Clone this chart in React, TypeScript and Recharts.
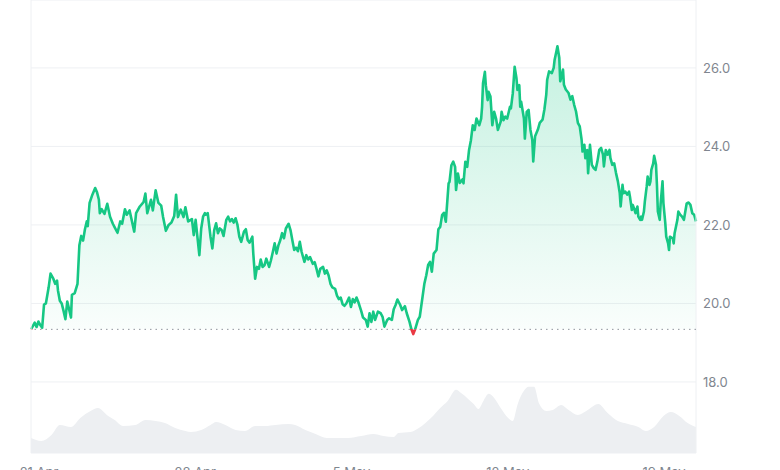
import { ComposedChart, Area, XAxis, YAxis, CartesianGrid, ReferenceLine } from 'recharts';

// hours since the first sample (20 Apr 15:24 UTC)
const priceHours = [
  0, 2, 4, 6, 8, 10, 12, 14, 16, 19, 21, 24, 26, 28, 29, 31, 33, 35, 37, 39, 41, 43, 44, 47, 50, 52, 54, 56, 58, 60,
  61, 63, 66, 69, 71, 73, 74, 76, 79, 82, 85, 88, 90, 93, 96, 98, 101, 103, 106, 111, 113, 117, 121, 123, 125, 129, 131, 134, 137, 140,
  142, 145, 148, 151, 154, 156, 158, 161, 164, 166, 169, 173, 175, 177,
  181, 183, 185, 187, 188, 190, 193, 195, 197, 199, 201, 203, 205, 207, 210, 212, 214, 216, 218, 220, 222, 224, 226, 229, 231, 233,
  235, 238, 239, 241, 243, 245, 247, 249, 251, 253, 256, 258, 260, 262, 264, 266, 268, 270, 272, 274, 277, 279, 281, 283, 285, 287,
  289, 291, 294, 296, 298, 300, 303, 305, 307, 309, 311, 314, 316, 318, 320, 322, 324, 327, 329, 331, 333, 335, 337, 339, 342, 344,
  346, 348, 350, 352, 355, 357,
  360, 362, 364, 366, 368, 370, 373, 376, 378, 380, 383, 385, 388, 390, 392, 394, 397, 399, 402, 404, 407, 409, 411, 413, 416, 418,
  421, 423, 425, 427, 429, 431, 433, 436, 438, 440, 442, 444, 446, 449, 450, 452, 454, 456, 457, 459, 461, 464, 465, 467, 469, 471,
  473, 475, 477, 479, 482, 484, 485, 486, 488, 489, 491, 492, 494, 496, 498, 500, 502, 505, 506, 508, 510, 512, 515, 516, 518, 520,
  522, 523, 525, 526, 527, 530, 531, 533, 535, 537, 539,
  540, 542, 545, 547, 550, 552, 554, 555, 557, 560, 562, 563, 565, 566, 568, 569, 570, 572, 573, 575, 578, 580, 582, 584, 586, 588,
  590, 592, 593, 595, 596, 598, 599, 601, 603, 605, 607, 609, 611, 613, 615, 616, 618, 620, 622, 623, 625, 627, 629, 631, 633, 634,
  636, 637, 639, 641, 643, 644, 646, 647, 649, 650, 652, 653, 655, 656, 657, 659, 660, 662, 663, 665, 666, 667, 669, 670, 672, 673,
  674, 676, 677, 679, 680, 682, 683, 685, 686, 687, 690, 691, 692, 695, 696, 698, 700, 702, 705, 707, 709, 711, 713, 715,
];

const prices = [
  19.34, 19.42, 19.51, 19.4, 19.54, 19.45, 19.38, 19.97, 20.0, 20.41, 20.76, 20.63, 20.5, 20.58, 20.33, 20.07, 20.0, 19.81, 19.6, 20.05,
  19.85, 19.64, 20.22, 20.26, 20.5, 21.48, 21.72, 21.6, 21.89, 22.09,
  21.97, 22.56, 22.77, 22.94, 22.83, 22.64, 22.3, 22.4, 22.28, 22.54, 22.21, 22.03, 21.94, 21.8, 22.09, 22.03, 22.4, 22.26, 22.37, 21.83,
  22.3, 22.47, 22.58, 22.8, 22.3, 22.64, 22.37, 22.88, 22.56, 22.49,
  22.2, 21.85, 22.0, 22.06, 22.23, 22.77, 22.2, 22.39, 22.2, 22.45, 22.09, 22.15, 21.74, 22.13,
  21.23, 21.91, 22.21, 22.3, 22.26, 22.3, 21.7, 21.4, 21.87, 22.04, 21.79, 21.91, 21.87, 21.72, 22.13, 22.21, 22.09, 22.15, 22.06, 22.17,
  22.0, 21.7, 21.57, 21.83, 21.89, 21.61,
  21.55, 21.7, 21.27, 20.63, 20.93, 20.88, 21.12, 20.93, 20.97, 21.14, 20.93, 21.1, 21.31, 21.53, 21.27, 21.48, 21.61, 21.79, 21.66, 21.91,
  22.03, 21.87, 21.61, 21.36, 21.42, 21.33,
  21.57, 21.31, 21.06, 21.23, 21.12, 21.18, 21.01, 21.05, 20.88, 20.69, 20.88, 20.93, 20.76, 20.84, 20.71, 20.5, 20.41, 20.37, 20.2, 20.11,
  20.15, 19.98, 19.94, 20.0, 20.15, 19.91,
  20.11, 20.03, 20.15, 20.03, 19.81, 19.64,
  19.58, 19.41, 19.75, 19.53, 19.79, 19.58, 19.79, 19.75, 19.66, 19.41, 19.58, 19.62, 19.58, 19.85, 19.96, 20.1, 19.96, 19.83, 19.93, 19.75,
  19.53, 19.34, 19.22, 19.34, 19.58, 19.66,
  20.17, 20.51, 20.72, 20.98, 21.06, 20.81, 21.27, 21.36, 21.89, 21.95, 22.25, 22.31, 22.08, 23.06, 23.1, 23.52, 23.61, 23.48, 22.89, 23.31,
  23.07, 23.16, 23.06, 23.61, 23.48, 23.91,
  24.16, 24.54, 24.42, 24.71, 24.54, 24.71, 25.01, 25.61, 25.9, 25.56, 25.18, 25.39, 25.27, 24.54, 24.88, 24.71, 24.42, 24.63, 24.88, 24.67,
  24.76, 24.71, 25.01, 24.97, 25.35, 26.03,
  25.73, 25.44, 25.56, 25.01, 25.14, 24.71, 24.2, 24.88, 24.93, 24.42, 24.16,
  23.62, 24.26, 24.43, 24.6, 24.68, 24.94, 25.32, 25.7, 25.91, 25.87, 26.0, 26.21, 26.43, 26.55, 26.26, 25.66, 25.74, 25.96, 25.57, 25.45,
  25.36, 25.19, 25.28, 25.06, 24.89, 24.6,
  24.51, 24.17, 23.87, 24.04, 23.7, 23.91, 23.32, 24.04, 23.53, 23.45, 23.4, 23.62, 23.91, 23.96, 23.79, 23.49, 23.91, 23.79, 23.91, 23.7,
  23.53, 23.57, 23.32, 23.11, 22.81, 22.47,
  23.02, 22.81, 22.85, 22.77, 22.85, 22.72, 22.38, 22.51, 22.38, 22.3, 22.47, 22.21, 22.13, 22.21, 22.13, 22.34, 22.6, 22.98, 23.23, 23.02,
  23.11, 23.4, 23.57, 23.76, 23.53, 23.02,
  22.34, 22.13, 22.55, 23.11, 22.55, 22.04, 21.7, 21.53, 21.36, 21.7, 21.66, 21.53, 21.79, 22.13, 22.34, 22.26, 22.21, 22.13, 22.55, 22.57,
  22.51, 22.3, 22.26, 22.09,
];

const volumeHours = [
  0, 11, 22, 31, 43, 53, 64, 72, 83, 90, 99, 112, 123, 134, 144, 155, 166, 172, 183, 193, 199, 209, 220, 230, 241, 252, 263, 277, 284, 295,
  306, 318, 327, 341, 355, 368, 379, 390, 395, 408, 417, 430, 440, 448, 457, 462, 470, 476, 481, 487, 492, 498, 505, 513, 518, 523, 530, 535,
  541, 546, 554, 561, 570, 578, 588, 597, 610, 620, 631, 642, 653, 661, 670, 680, 688, 697, 706, 715,
];

// volume, millions
const volumes = [
  7.5, 6, 9, 14, 13, 17.5, 21, 22.5, 18.5, 16.5, 13.5, 14, 16.5, 16, 15, 12.5, 11, 10.5, 11.5, 14, 15.5, 14, 11.5, 11, 13.5, 13.5, 14, 14.5,
  14, 11.5, 9.5, 7.5, 7.5, 7.5, 8.5, 9.5, 8.5, 8, 10, 10.5, 12.5, 17.5, 22.5, 26, 31.5, 30, 27, 24.5, 22, 26.5, 29.5, 27.5, 22.5, 17.5, 16,
  24, 31, 33, 33, 25, 21, 21.5, 24, 21.5, 19, 21, 24.5, 20, 16, 14.5, 13, 11, 13, 18.5, 20.5, 18.5, 15, 13,
];

const priceTicks = [18, 20, 22, 24, 26];
const dateTicks = [
  Date.UTC(2024, 3, 21),
  Date.UTC(2024, 3, 28),
  Date.UTC(2024, 4, 5),
  Date.UTC(2024, 4, 12),
  Date.UTC(2024, 4, 19),
];
const monthNames = ['Jan', 'Feb', 'Mar', 'Apr', 'May', 'Jun', 'Jul', 'Aug', 'Sep', 'Oct', 'Nov', 'Dec'];

const START = Date.UTC(2024, 3, 20, 15, 24);
const HOUR = 3600 * 1000;

const GREEN = '#16c784';
const RED = '#ea3943';

export default function App() {
  const priceData = priceHours.map((h, i) => ({ t: START + h * HOUR, price: prices[i] }));
  const volumeData = volumeHours.map((h, i) => ({ t: START + h * HOUR, volume: volumes[i] }));

  const base = prices[0];
  const maxP = Math.max(...prices);
  const minP = Math.min(...prices);
  // where the starting price sits inside the line's bounding box
  const splitOffset = (maxP - base) / (maxP - minP);

  const formatDate = (v: number) => {
    const d = new Date(v);
    return `${d.getUTCDate()} ${monthNames[d.getUTCMonth()]}`;
  };

  const tickStyle = { fill: '#80868f', fontSize: 13, fontFamily: 'Inter, "Noto Sans", sans-serif' };

  return (
    <div style={{ position: 'absolute', left: 0, top: 0, width: 780, height: 490, background: '#fff' }}>
      <ComposedChart width={780} height={490} margin={{ top: 0, right: 0, bottom: 0, left: 31 }}>
        <defs>
          <linearGradient id="priceStroke" x1="0" y1="0" x2="0" y2="1">
            <stop offset={0} stopColor={GREEN} />
            <stop offset={splitOffset} stopColor={GREEN} />
            <stop offset={splitOffset} stopColor={RED} />
            <stop offset={1} stopColor={RED} />
          </linearGradient>
          <linearGradient id="priceFill" x1="0" y1="0" x2="0" y2="1">
            <stop offset="0%" stopColor={GREEN} stopOpacity={0.25} />
            <stop offset="100%" stopColor={GREEN} stopOpacity={0.02} />
          </linearGradient>
        </defs>

        <CartesianGrid yAxisId="price" vertical={false} stroke="#eef0f3" />

        <XAxis
          dataKey="t"
          type="number"
          domain={['dataMin', 'dataMax']}
          ticks={dateTicks}
          tickFormatter={formatDate}
          axisLine={false}
          tickLine={false}
          tickMargin={9}
          height={37}
          tick={tickStyle}
        />
        <YAxis
          yAxisId="price"
          orientation="right"
          domain={[16.19, 27.73]}
          ticks={priceTicks}
          tickFormatter={(v: number) => v.toFixed(1)}
          axisLine={false}
          tickLine={false}
          tickSize={6}
          tickMargin={1}
          width={84}
          tick={tickStyle}
        />
        <YAxis yAxisId="vol" hide domain={[0, 226]} />

        <Area
          yAxisId="vol"
          data={volumeData}
          dataKey="volume"
          type="monotone"
          stroke="none"
          fill="#edeff2"
          fillOpacity={1}
          isAnimationActive={false}
          dot={false}
          activeDot={false}
        />

        <ReferenceLine yAxisId="price" x={START} stroke="#eef0f3" />
        <ReferenceLine yAxisId="price" x={START + priceHours[priceHours.length - 1] * HOUR} stroke="#eef0f3" />
        <ReferenceLine yAxisId="price" y={base} stroke="#8f959e" strokeDasharray="1.5 4" />

        <Area
          yAxisId="price"
          data={priceData}
          dataKey="price"
          type="linear"
          baseValue={base}
          stroke="url(#priceStroke)"
          strokeWidth={2.6}
          strokeLinejoin="round"
          fill="url(#priceFill)"
          fillOpacity={1}
          isAnimationActive={false}
          dot={false}
          activeDot={false}
        />
      </ComposedChart>
    </div>
  );
}
